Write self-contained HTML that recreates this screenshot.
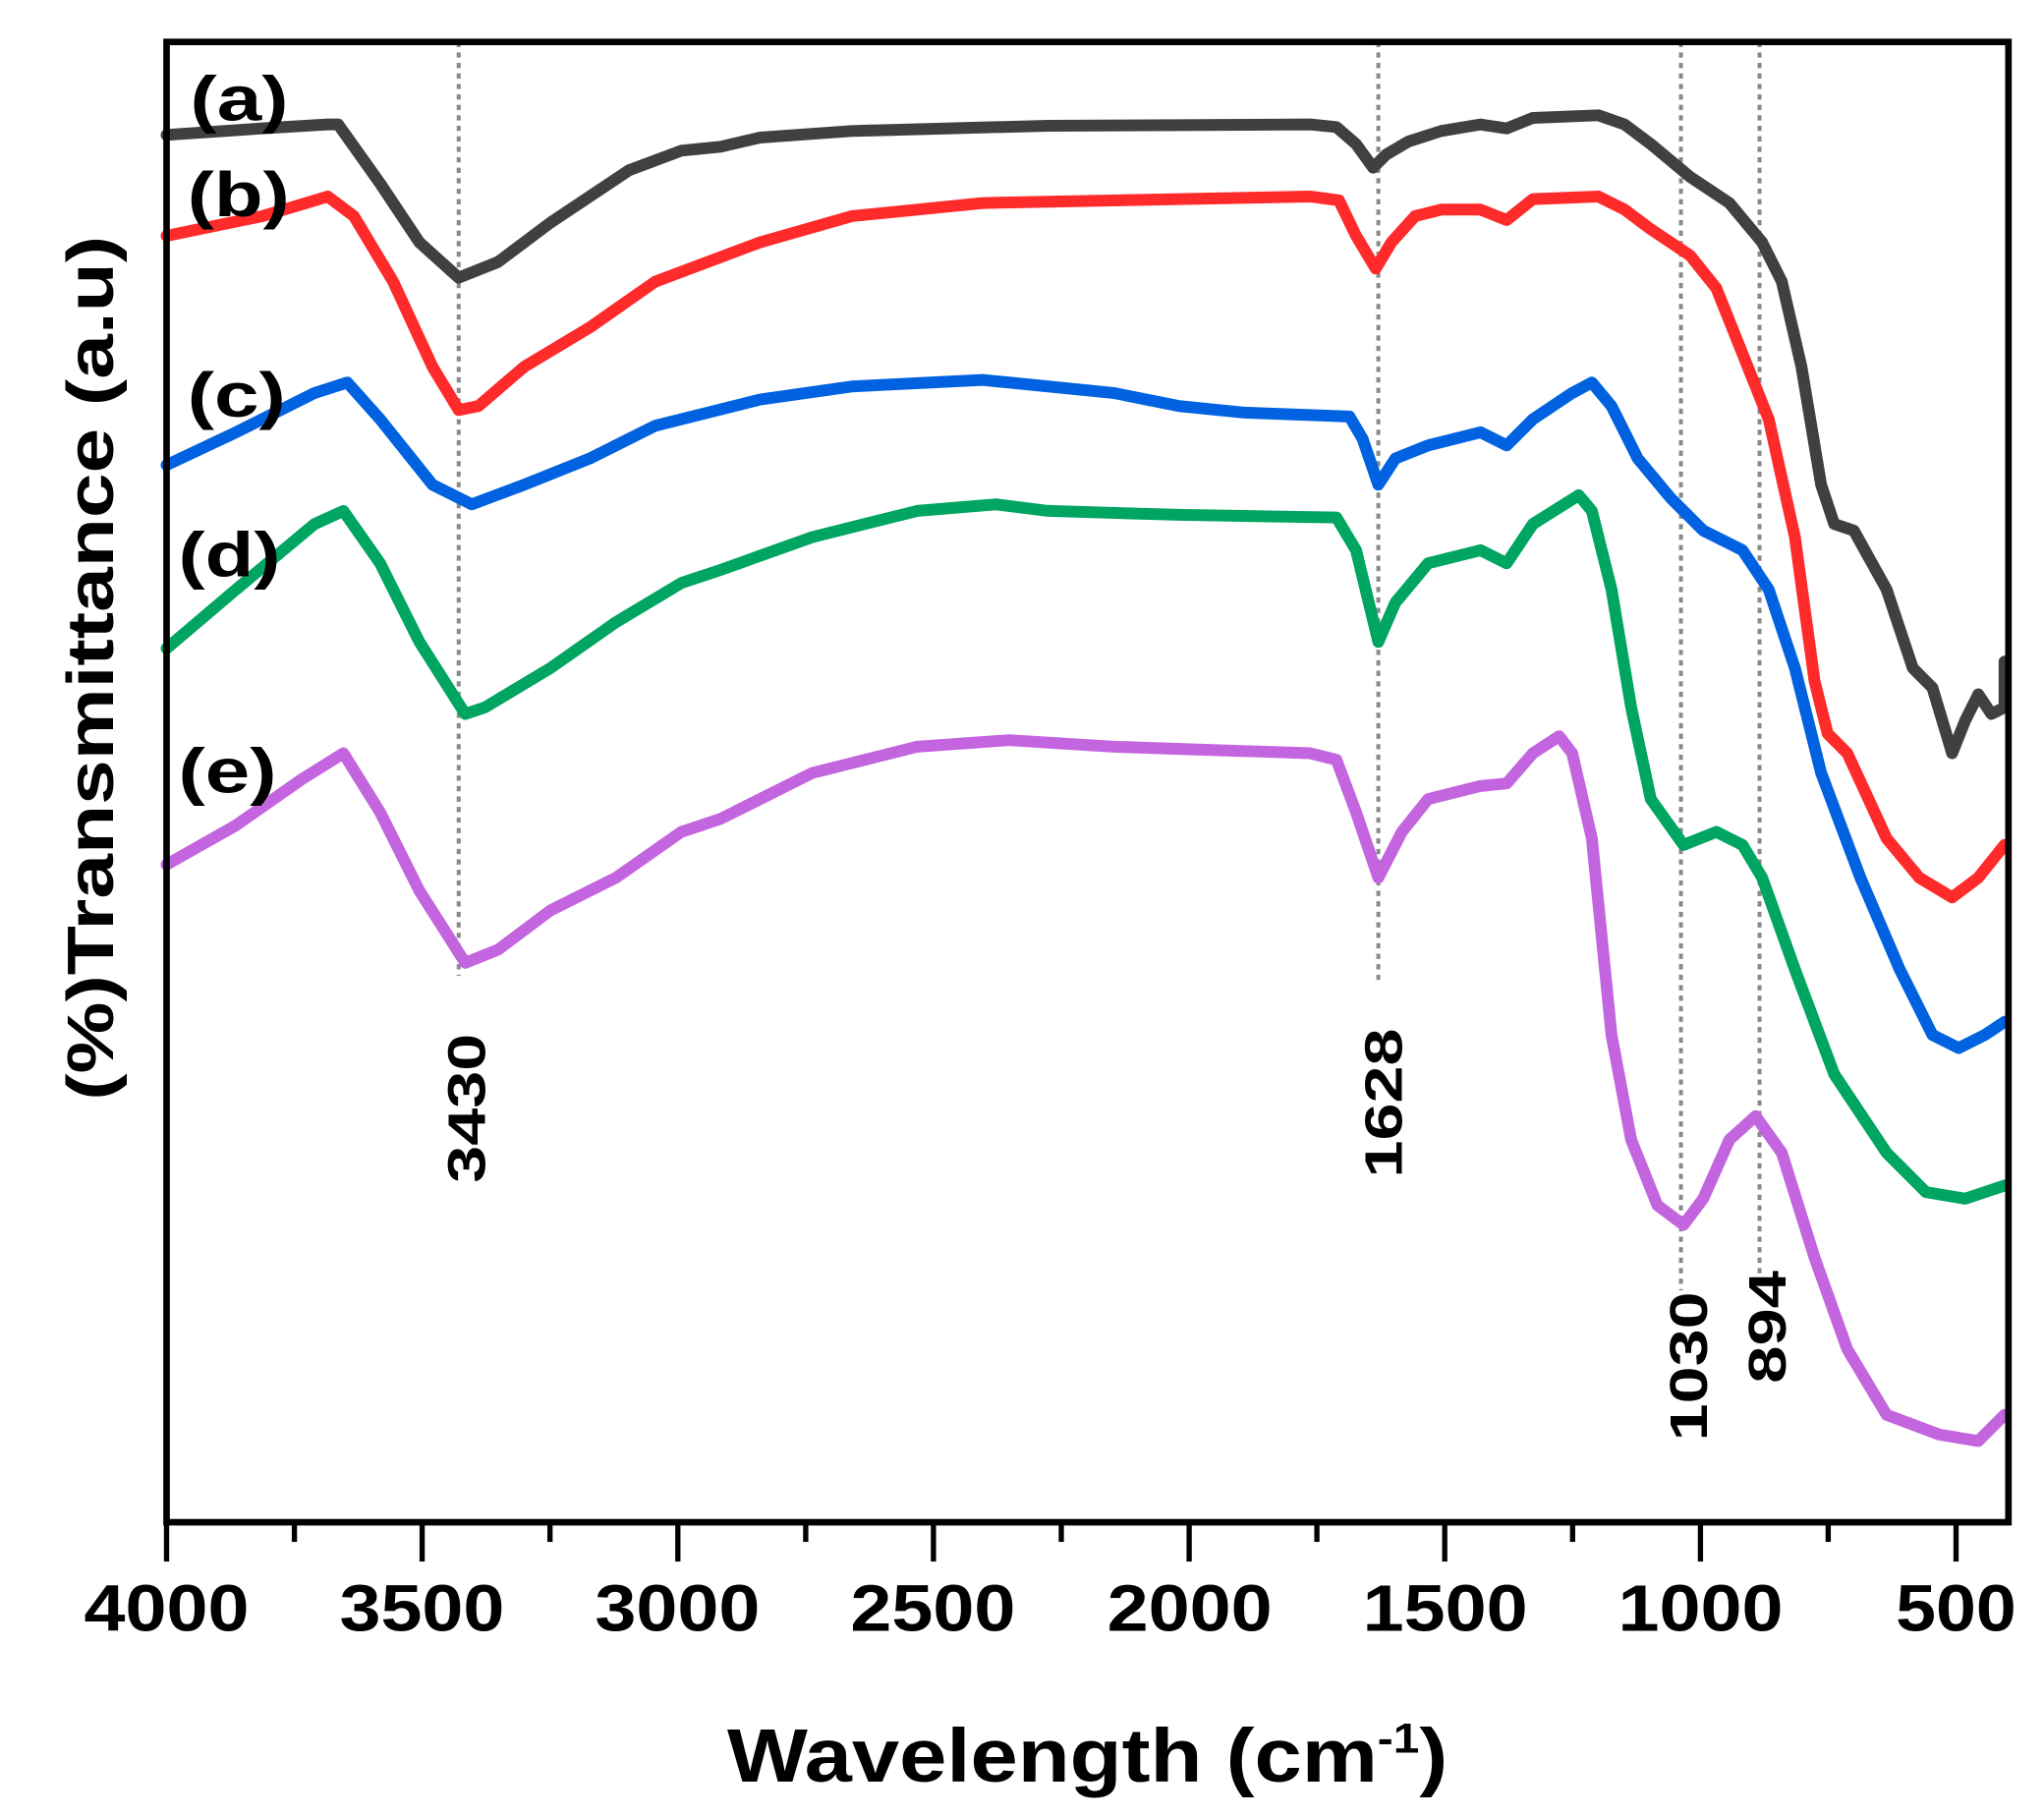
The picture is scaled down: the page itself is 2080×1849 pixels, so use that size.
<!DOCTYPE html>
<html><head><meta charset="utf-8"><style>html,body{margin:0;padding:0;background:#fff}svg{display:block}</style></head>
<body>
<svg width="2080" height="1849" viewBox="0 0 1560 1387" xmlns="http://www.w3.org/2000/svg" font-family="Liberation Sans, Arial, sans-serif" font-weight="bold">
<rect width="1560" height="1387" fill="#fff"/>
<g stroke="#888" stroke-width="3" stroke-dasharray="4,4" fill="none">
<line x1="350" y1="32" x2="350" y2="745"/>
<line x1="1052" y1="32" x2="1052" y2="750"/>
<line x1="1283" y1="32" x2="1283" y2="985"/>
<line x1="1343" y1="32" x2="1343" y2="985"/>
</g>
<g fill="none" stroke-width="9" stroke-linejoin="round" stroke-linecap="round">
<polyline stroke="#404040" points="127,103 200,98 250,95 258,95 290,140 320,185 350,212 380,200 420,170 480,130 520,115 550,112 580,105 650,100 800,96 1000,95 1020,97 1035,110 1048,128 1058,118 1075,108 1100,100 1130,95 1150,98 1170,90 1220,88 1240,95 1260,110 1290,135 1320,155 1345,185 1360,215 1375,280 1390,370 1400,400 1415,405 1440,450 1460,510 1475,525 1490,575 1500,550 1510,530 1520,545 1530,540 1530,505"/>
<polyline stroke="#ff2a2a" points="127,180 200,165 250,150 270,165 300,215 330,280 350,313 365,310 400,280 450,250 500,215 540,200 580,185 650,165 750,155 900,152 1000,150 1022,153 1035,180 1050,205 1062,185 1080,165 1100,160 1130,160 1150,168 1170,152 1220,150 1240,160 1260,175 1290,195 1310,220 1330,270 1350,320 1370,410 1385,520 1395,560 1410,575 1440,640 1465,670 1490,685 1510,670 1530,645"/>
<polyline stroke="#0062e0" points="127,355 180,330 240,300 265,292 290,320 330,370 360,385 400,370 450,350 500,325 540,315 580,305 650,295 750,290 800,295 850,300 900,310 950,315 1030,318 1040,335 1052,370 1065,350 1090,340 1130,330 1150,340 1170,320 1200,300 1215,292 1230,310 1250,350 1275,380 1300,405 1330,420 1350,450 1370,510 1390,590 1420,670 1450,740 1475,790 1495,800 1515,790 1530,780"/>
<polyline stroke="#00a562" points="127,495 180,450 240,400 262,390 290,430 320,490 355,545 370,540 420,510 470,475 520,445 550,435 620,410 700,390 760,385 800,390 900,393 1020,395 1035,420 1052,490 1065,460 1090,430 1130,420 1150,430 1170,400 1205,378 1215,390 1230,450 1245,540 1260,610 1285,645 1310,635 1330,645 1345,670 1370,740 1400,820 1440,880 1470,910 1500,915 1530,905"/>
<polyline stroke="#c465e0" points="127,660 180,630 230,595 262,575 290,620 320,680 355,735 380,725 420,695 470,670 520,635 550,625 620,590 700,570 770,565 850,570 1000,575 1020,580 1035,620 1052,670 1070,635 1090,610 1130,600 1150,598 1170,575 1190,562 1200,575 1215,640 1230,790 1245,870 1265,920 1285,935 1300,915 1320,870 1340,852 1360,880 1385,960 1410,1030 1440,1080 1480,1095 1510,1100 1530,1080"/>
</g>
<rect x="127" y="32" width="1406" height="1130" fill="none" stroke="#000" stroke-width="5"/>
<g stroke="#000" stroke-width="4">
<line x1="127" y1="1162" x2="127" y2="1192"/><line x1="224.6" y1="1162" x2="224.6" y2="1177"/>
<line x1="322.1" y1="1162" x2="322.1" y2="1192"/><line x1="419.7" y1="1162" x2="419.7" y2="1177"/>
<line x1="517.3" y1="1162" x2="517.3" y2="1192"/><line x1="614.9" y1="1162" x2="614.9" y2="1177"/>
<line x1="712.4" y1="1162" x2="712.4" y2="1192"/><line x1="810" y1="1162" x2="810" y2="1177"/>
<line x1="907.6" y1="1162" x2="907.6" y2="1192"/><line x1="1005.1" y1="1162" x2="1005.1" y2="1177"/>
<line x1="1102.7" y1="1162" x2="1102.7" y2="1192"/><line x1="1200.3" y1="1162" x2="1200.3" y2="1177"/>
<line x1="1297.9" y1="1162" x2="1297.9" y2="1192"/><line x1="1395.4" y1="1162" x2="1395.4" y2="1177"/>
<line x1="1493" y1="1162" x2="1493" y2="1192"/>
</g>
<g font-size="50" text-anchor="middle" fill="#000" lengthAdjust="spacingAndGlyphs">
<text x="127" y="1245" textLength="126" lengthAdjust="spacingAndGlyphs">4000</text>
<text x="322" y="1245" textLength="126" lengthAdjust="spacingAndGlyphs">3500</text>
<text x="517" y="1245" textLength="126" lengthAdjust="spacingAndGlyphs">3000</text>
<text x="712" y="1245" textLength="126" lengthAdjust="spacingAndGlyphs">2500</text>
<text x="908" y="1245" textLength="126" lengthAdjust="spacingAndGlyphs">2000</text>
<text x="1103" y="1245" textLength="126" lengthAdjust="spacingAndGlyphs">1500</text>
<text x="1298" y="1245" textLength="126" lengthAdjust="spacingAndGlyphs">1000</text>
<text x="1493" y="1245" textLength="92" lengthAdjust="spacingAndGlyphs">500</text>
</g>
<text x="555" y="1360" font-size="58" textLength="550" lengthAdjust="spacingAndGlyphs">Wavelength (cm<tspan dy="-22" font-size="32">-1</tspan><tspan dy="22">)</tspan></text>
<text transform="translate(86,510) rotate(-90)" font-size="50" text-anchor="middle" textLength="660" lengthAdjust="spacingAndGlyphs">(%)Transmittance (a.u)</text>
<g font-size="48">
<text x="145" y="92" textLength="75" lengthAdjust="spacingAndGlyphs">(a)</text>
<text x="143" y="165" textLength="78" lengthAdjust="spacingAndGlyphs">(b)</text>
<text x="143" y="318" textLength="75" lengthAdjust="spacingAndGlyphs">(c)</text>
<text x="136" y="440" textLength="78" lengthAdjust="spacingAndGlyphs">(d)</text>
<text x="136" y="605" textLength="75" lengthAdjust="spacingAndGlyphs">(e)</text>
</g>
<g font-size="40" text-anchor="middle">
<text transform="translate(370,846) rotate(-90)" textLength="114" lengthAdjust="spacingAndGlyphs">3430</text>
<text transform="translate(1070,842) rotate(-90)" textLength="114" lengthAdjust="spacingAndGlyphs">1628</text>
<text transform="translate(1303,1043) rotate(-90)" textLength="114" lengthAdjust="spacingAndGlyphs">1030</text>
<text transform="translate(1363,1013) rotate(-90)" textLength="86" lengthAdjust="spacingAndGlyphs">894</text>
</g>
</svg>
</body></html>
